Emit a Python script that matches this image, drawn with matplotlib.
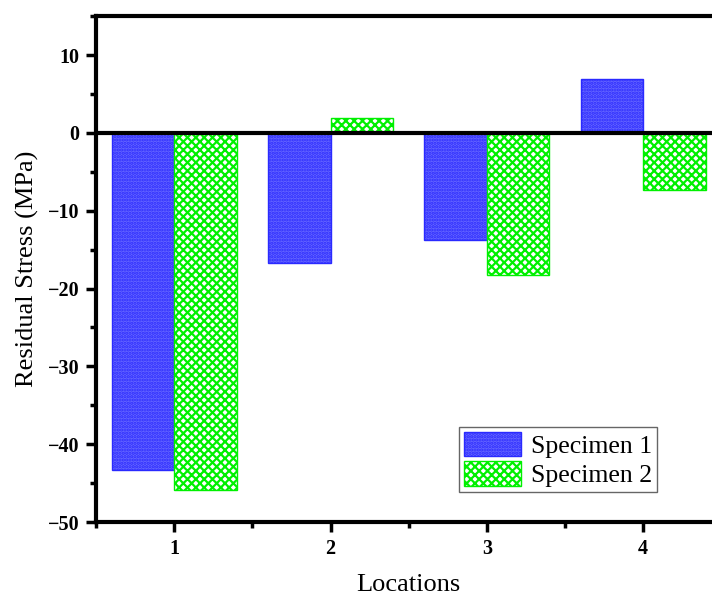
import numpy as np
import matplotlib.pyplot as plt
from matplotlib.ticker import MultipleLocator

locations = [1, 2, 3, 4]
specimen1 = [-43.3, -16.7, -13.7, 6.9]
specimen2 = [-45.9, 1.9, -18.2, -7.4]
labels = ['Specimen 1', 'Specimen 2']

plt.rcParams['font.family'] = ['Liberation Serif', 'DejaVu Serif']
plt.rcParams['hatch.linewidth'] = 1.6

fig = plt.figure(figsize=(7.12, 5.99), dpi=100)
ax = fig.add_axes([0.135, 0.1285, 0.878, 0.8445])

x = np.array(locations, dtype=float)
w = 0.4
ax.bar(x - w/2, specimen1, width=w, facecolor='#6666ff', edgecolor='#2a2aff',
       hatch='.....', linewidth=1, label=labels[0], zorder=2)
ax.bar(x + w/2, specimen2, width=w, facecolor='white', edgecolor='#00f000',
       hatch='xxxx', linewidth=1, label=labels[1], zorder=2)

ax.axhline(0, color='black', lw=3, zorder=3)

ax.set_xlim(0.5, 4.5)
ax.set_ylim(-50, 15)
ax.set_xticks(locations)
ax.xaxis.set_minor_locator(MultipleLocator(0.5))
ax.yaxis.set_major_locator(MultipleLocator(10))
ax.yaxis.set_minor_locator(MultipleLocator(5))

for side in ['left', 'bottom', 'top', 'right']:
    ax.spines[side].set_linewidth(3)

ax.tick_params(which='major', direction='out', length=7, width=2.5, labelsize=14.5,
               pad=5)
ax.tick_params(which='minor', direction='out', length=4, width=2.5)
ax.tick_params(axis='x', which='both', top=False)
ax.tick_params(axis='y', which='both', right=False)
for t in ax.get_xticklabels() + ax.get_yticklabels():
    t.set_fontweight('bold')

ax.set_xlabel('Locations', fontsize=19, labelpad=11)
ax.set_ylabel('Residual Stress (MPa)', fontsize=19, labelpad=6)

leg = ax.legend(loc='lower right', bbox_to_anchor=(0.898, 0.059), borderaxespad=0,
                fontsize=18.5, fancybox=False, framealpha=1, edgecolor='#666666',
                handlelength=2.2, handleheight=1.1, handletextpad=0.4,
                borderpad=0.2, labelspacing=0.12)
leg.get_frame().set_linewidth(1)

plt.savefig('out.png', dpi=100)
